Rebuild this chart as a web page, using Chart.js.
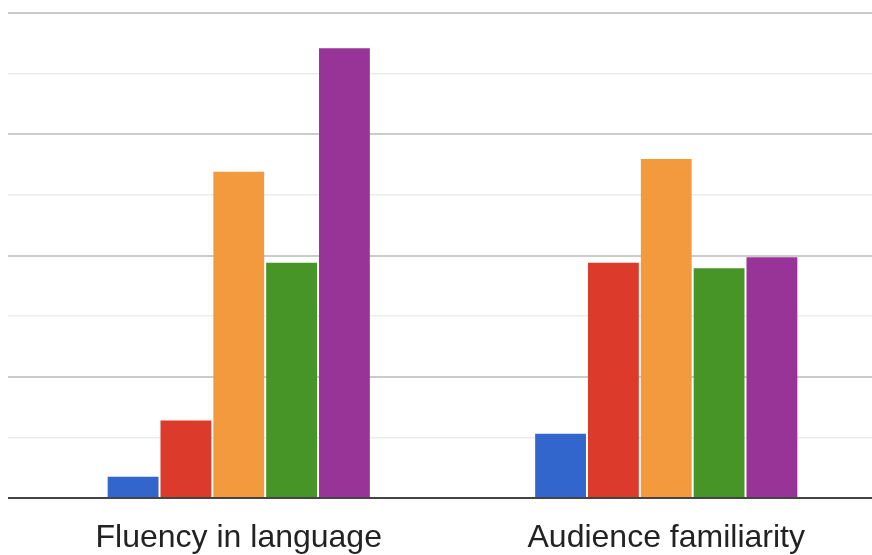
<!DOCTYPE html>
<html>
<head>
<meta charset="utf-8">
<script src="https://cdn.jsdelivr.net/npm/chart.js@4"></script>
<style>
  html, body { margin: 0; padding: 0; background: #fff; overflow: hidden; }
  #wrap { width: 880px; height: 555px; }
</style>
</head>
<body>
<div id="wrap"><canvas id="chart" width="880" height="555"></canvas></div>
<script>
// Categories and the five answer series (grid units)
const categories = ['Fluency in language', 'Audience familiarity'];
const seriesNames = ['1', '2', '3', '4', '5'];
const seriesColors = ['#3266cc', '#dc3a2b', '#f39a3e', '#479527', '#983498'];
const series1 = [0.35, 1.06];
const series2 = [1.28, 3.88];
const series3 = [5.38, 5.59];
const series4 = [3.88, 3.79];
const series5 = [7.42, 3.97];
const yTicks = [0, 1, 2, 3, 4, 5, 6, 7, 8];

const allSeries = [series1, series2, series3, series4, series5];

function gridColor(ctx) {
  const v = ctx.tick && ctx.tick.value;
  if (v === 0) return '#444444';
  return v % 2 === 0 ? '#cbcbcb' : '#ececec';
}

function gridWidth(ctx) {
  const v = ctx.tick && ctx.tick.value;
  if (v === 0) return 2;
  return v % 2 === 0 ? 2 : 1.5;
}

new Chart(document.getElementById('chart').getContext('2d'), {
  type: 'bar',
  data: {
    labels: categories,
    datasets: allSeries.map((vals, i) => ({
      label: seriesNames[i],
      data: vals,
      backgroundColor: seriesColors[i],
      borderWidth: 0,
      categoryPercentage: 0.618,
      barPercentage: 0.962
    }))
  },
  options: {
    responsive: false,
    animation: false,
    layout: { padding: { left: 8, top: 13, right: 0, bottom: 0 } },
    plugins: {
      legend: { display: false },
      tooltip: { enabled: false }
    },
    scales: {
      x: {
        grid: { display: false, drawTicks: false },
        border: { display: false },
        afterFit: (scale) => { scale.height = 57; },
        ticks: {
          color: '#222222',
          padding: 21,
          font: { family: '"Liberation Sans", Arial, sans-serif', size: 32 }
        }
      },
      y: {
        min: 0,
        max: 8,
        afterBuildTicks: (scale) => { scale.ticks = yTicks.map((v) => ({ value: v })); },
        border: { display: false },
        grid: {
          color: gridColor,
          lineWidth: gridWidth,
          drawTicks: true,
          tickLength: 17
        },
        ticks: { display: false }
      }
    }
  }
});
</script>
</body>
</html>
